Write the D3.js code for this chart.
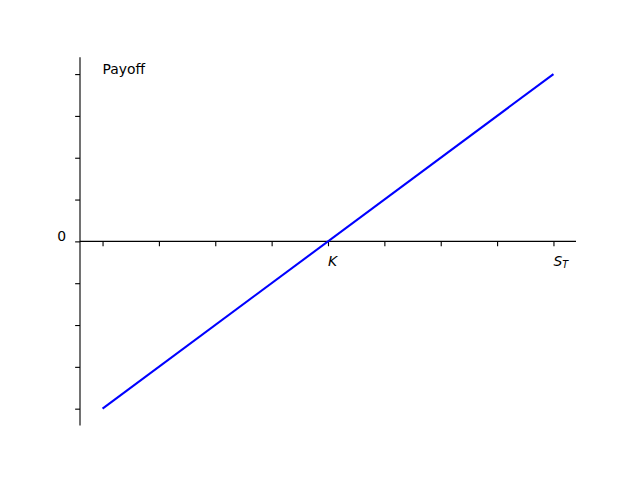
<!DOCTYPE html>
<html><head><meta charset="utf-8">
<script src="https://cdn.jsdelivr.net/npm/d3@7"></script>
<style>body{margin:0;background:#fff}svg{display:block}text{font-family:"DejaVu Sans",sans-serif}</style>
</head><body>
<svg id="c" width="640" height="478"></svg>
<script>
// Data
const xTicks = [0, 1, 2, 3, 4, 5, 6, 7, 8];
const yTicks = [-4, -3, -2, -1, 0, 1, 2, 3, 4];
const strikeK = 4;
const spotST = 8;
const payoffX = [0, 8];
const payoffY = [-4, 4];
const xLabels = [{v: 4, main: "K", sub: ""}, {v: 8, main: "S", sub: "T"}];

const svg = d3.select("#c");
const L = 80, R = 576, T = 57.36, B = 425.4;
const x = d3.scaleLinear().domain([-0.4, 8.4]).range([L, R]);
const y = d3.scaleLinear().domain([-4.4, 4.4]).range([B, T]);

// bottom spine at y=0
const xAxis = d3.axisBottom(x).tickValues(xTicks).tickSize(4.86).tickFormat("").tickSizeOuter(0);
const gx = svg.append("g").attr("transform", `translate(0,${y(0)})`).call(xAxis);
gx.select(".domain").attr("d", `M${L},0H${R}`).attr("stroke", "#000").attr("stroke-width", 1.11);
gx.selectAll(".tick line").attr("stroke", "#000").attr("stroke-width", 1.11);

const yAxis = d3.axisLeft(y).tickValues(yTicks).tickSize(4.86).tickFormat("").tickSizeOuter(0);
const gy = svg.append("g").attr("transform", `translate(${L},0)`).call(yAxis);
gy.select(".domain").attr("d", `M0,${T}V${B}`).attr("stroke", "#000").attr("stroke-width", 1.11);
gy.selectAll(".tick line").attr("stroke", "#000").attr("stroke-width", 1.11);

// payoff line
const line = d3.line().x(d => x(d[0])).y(d => y(d[1]));
svg.append("path").datum(payoffX.map((v, i) => [v, payoffY[i]]))
  .attr("d", line).attr("fill", "none").attr("stroke", "#0000ff").attr("stroke-width", 2.08);

// labels
svg.append("text").attr("x", x(0)).attr("y", 74).attr("font-size", 13.9).text("Payoff");
svg.append("text").attr("x", 66).attr("y", 241).attr("font-size", 13.9).attr("text-anchor", "end").text("0");
xLabels.forEach(l => {
  const t = svg.append("text").attr("x", x(l.v)).attr("y", 265.5).attr("font-size", 13.9).attr("font-style", "italic");
  t.append("tspan").text(l.main);
  if (l.sub) t.append("tspan").attr("font-size", 9.7).attr("dy", 2.5).text(l.sub);
});
</script>
</body></html>
